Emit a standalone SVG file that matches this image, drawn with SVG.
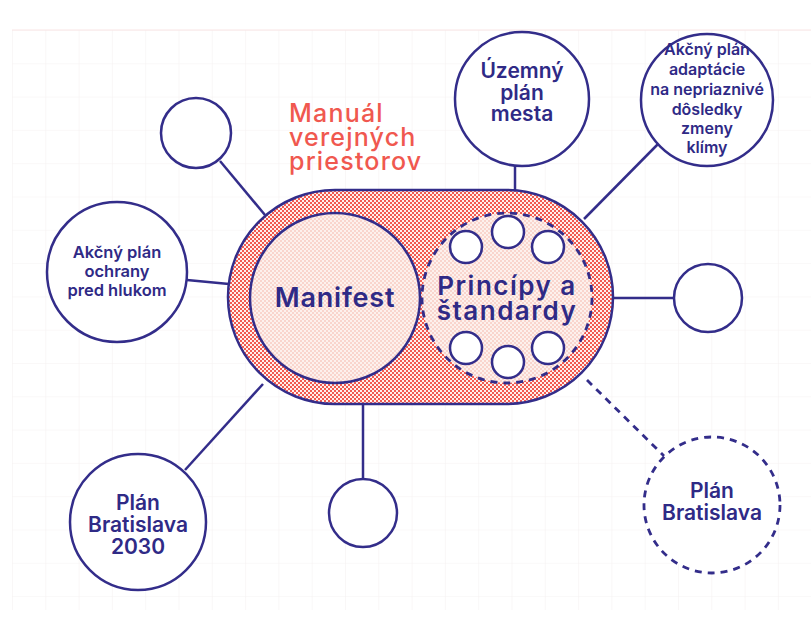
<svg xmlns="http://www.w3.org/2000/svg" width="811" height="617" viewBox="0 0 811 617">
<defs>
<pattern id="chk" width="4" height="4" patternUnits="userSpaceOnUse">
<rect width="4" height="4" fill="#fff0ec"/>
<rect width="2" height="2" fill="#f25a4f"/>
<rect x="2" y="2" width="2" height="2" fill="#f25a4f"/>
</pattern>
<pattern id="chkl" width="4" height="4" patternUnits="userSpaceOnUse">
<rect width="4" height="4" fill="#fdf1ed"/>
<rect width="2" height="2" fill="#f9d5cd"/>
<rect x="2" y="2" width="2" height="2" fill="#f9d5cd"/>
</pattern>
<pattern id="grid" x="12" y="30" width="33.3" height="33.3" patternUnits="userSpaceOnUse">
<path d="M0 0H33.3M0 0V33.3" fill="none" stroke="#f6f2f2" stroke-width="1.2"/>
</pattern>
</defs>
<style>
.ln{stroke:#332d8a;stroke-width:2.5;fill:none}
.dl{stroke:#332d8a;stroke-width:2.8;fill:none;stroke-dasharray:7 6}
.nc{stroke:#332d8a;stroke-width:2.5;fill:#fff}
.t{font-family:Inter,"Liberation Sans",sans-serif;fill:#2f2a86;text-anchor:middle;font-weight:600}
.ti{font-family:Inter,"Liberation Sans",sans-serif;fill:#f0584f;font-weight:500;font-size:25px;letter-spacing:1.2px}
</style>
<rect width="811" height="617" fill="#fff"/>
<rect x="12" y="30" width="799" height="580" fill="url(#grid)"/>
<line x1="12" y1="30" x2="811" y2="30" stroke="#f9e6e6" stroke-width="1.2"/>

<g id="connectors">
<line class="ln" x1="220" y1="161" x2="265" y2="215"/>
<line class="ln" x1="187" y1="280" x2="229" y2="284"/>
<line class="ln" x1="515" y1="165" x2="515" y2="191"/>
<line class="ln" x1="660" y1="142" x2="584" y2="219"/>
<line class="ln" x1="613" y1="298" x2="674" y2="298"/>
<line class="ln" x1="363" y1="404" x2="363" y2="479"/>
<line class="ln" x1="185" y1="470" x2="263" y2="384"/>
<line class="dl" x1="587" y1="380" x2="664" y2="456"/>
</g>

<g id="hub">
<rect x="228" y="190" width="385" height="214" rx="107" fill="url(#chk)" stroke="#332d8a" stroke-width="2.5"/>
</g>

<g id="manifest">
<circle cx="335" cy="298" r="85" fill="url(#chkl)" stroke="#332d8a" stroke-width="2.5"/>
<text class="t" x="335" y="307" font-size="27" font-weight="700" letter-spacing="0.8">Manifest</text>
</g>

<g id="principy">
<circle cx="507" cy="298" r="85" fill="url(#chkl)" stroke="#332d8a" stroke-width="2.8" stroke-dasharray="7 6"/>
<circle class="nc" cx="466" cy="247" r="16"/>
<circle class="nc" cx="508" cy="232" r="16"/>
<circle class="nc" cx="548" cy="247" r="16"/>
<circle class="nc" cx="466" cy="348" r="16"/>
<circle class="nc" cx="508" cy="362" r="16"/>
<circle class="nc" cx="548" cy="348" r="16"/>
<text class="t" x="507" y="295" font-size="26" font-weight="500" letter-spacing="1.5">Princípy a</text>
<text class="t" x="507" y="320" font-size="26" font-weight="500" letter-spacing="1.5">štandardy</text>
</g>

<g id="title">
<text class="ti" x="289" y="122">Manuál</text>
<text class="ti" x="289" y="146">verejných</text>
<text class="ti" x="289" y="170">priestorov</text>
</g>

<g id="n-empty-tl"><circle class="nc" cx="196" cy="133" r="35"/></g>

<g id="n-hluk">
<circle class="nc" cx="117" cy="272" r="70"/>
<text class="t" x="117" y="258" font-size="16.5">Akčný plán</text>
<text class="t" x="117" y="277" font-size="16.5">ochrany</text>
<text class="t" x="117" y="296" font-size="16.5">pred hlukom</text>
</g>

<g id="n-uzemny">
<circle class="nc" cx="522" cy="99" r="67"/>
<text class="t" x="522" y="78" font-size="21" font-weight="500">Územný</text>
<text class="t" x="522" y="100" font-size="21" font-weight="500">plán</text>
<text class="t" x="522" y="121" font-size="21" font-weight="500">mesta</text>
</g>

<g id="n-klima">
<circle class="nc" cx="707" cy="100" r="66"/>
<text class="t" x="707" y="55" font-size="16">Akčný plán</text>
<text class="t" x="707" y="75" font-size="16">adaptácie</text>
<text class="t" x="707" y="95" font-size="16">na nepriaznivé</text>
<text class="t" x="707" y="115" font-size="16">dôsledky</text>
<text class="t" x="707" y="134" font-size="16">zmeny</text>
<text class="t" x="707" y="153" font-size="16">klímy</text>
</g>

<g id="n-empty-r"><circle class="nc" cx="708" cy="298" r="34"/></g>

<g id="n-empty-b"><circle class="nc" cx="363" cy="513" r="34"/></g>

<g id="n-ba2030">
<circle class="nc" cx="138" cy="522" r="68"/>
<text class="t" x="138" y="510" font-size="21" font-weight="500">Plán</text>
<text class="t" x="138" y="532" font-size="21" font-weight="500">Bratislava</text>
<text class="t" x="138" y="554" font-size="21" font-weight="500">2030</text>
</g>

<g id="n-ba">
<circle cx="712" cy="505" r="68" fill="#fff" stroke="#332d8a" stroke-width="2.8" stroke-dasharray="7 6"/>
<text class="t" x="712" y="498" font-size="21" font-weight="500">Plán</text>
<text class="t" x="712" y="520" font-size="21" font-weight="500">Bratislava</text>
</g>
</svg>
